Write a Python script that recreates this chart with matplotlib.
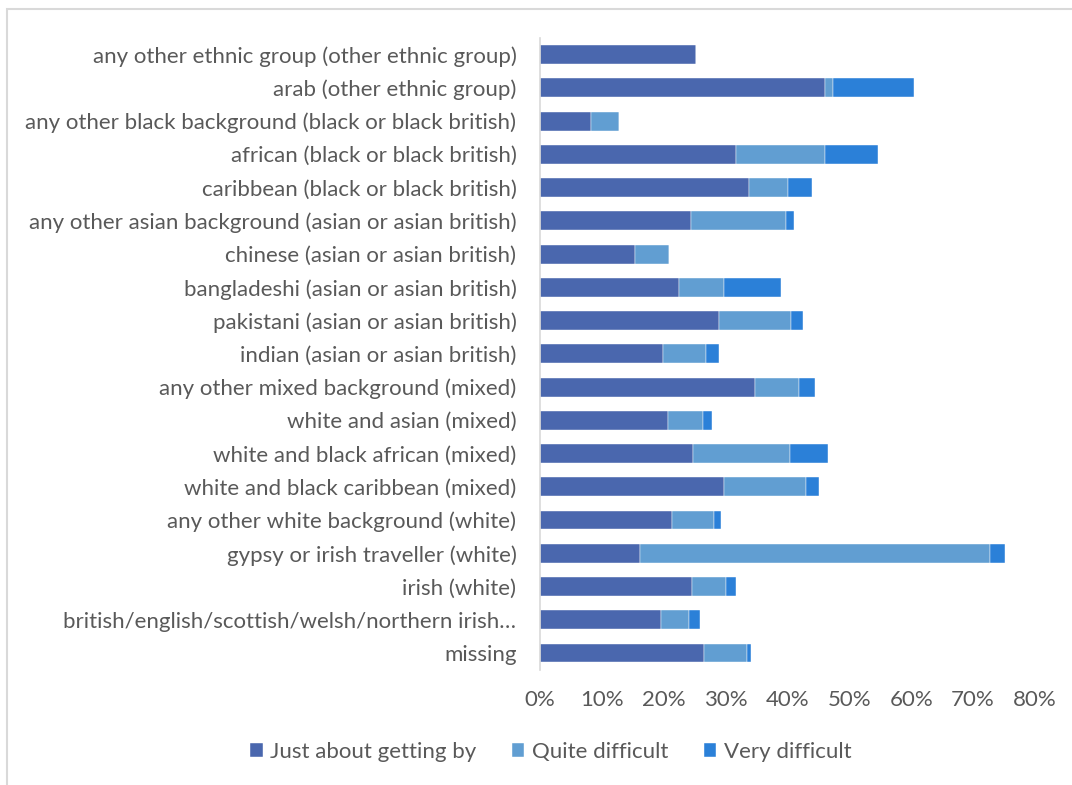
import matplotlib
matplotlib.use('Agg')
from matplotlib import pyplot as plt
from matplotlib.patches import Rectangle
from matplotlib.ticker import PercentFormatter

# categories listed bottom to top (as drawn on the y axis)
groups = [
    'missing',
    'british/english/scottish/welsh/northern irish\u2026',
    'irish (white)',
    'gypsy or irish traveller (white)',
    'any other white background (white)',
    'white and black caribbean (mixed)',
    'white and black african (mixed)',
    'white and asian (mixed)',
    'any other mixed background (mixed)',
    'indian (asian or asian british)',
    'pakistani (asian or asian british)',
    'bangladeshi (asian or asian british)',
    'chinese (asian or asian british)',
    'any other asian background (asian or asian british)',
    'caribbean (black or black british)',
    'african (black or black british)',
    'any other black background (black or black british)',
    'arab (other ethnic group)',
    'any other ethnic group (other ethnic group)',
]

just_getting_by = [26.5, 19.5, 24.6, 16.2, 21.4, 29.7, 24.8, 20.7, 34.8, 19.9,
                   28.9, 22.5, 15.4, 24.4, 33.8, 31.7, 8.3, 46.0, 25.2]
quite_difficult = [7.0, 4.5, 5.4, 56.5, 6.7, 13.3, 15.6, 5.7, 7.0, 7.0,
                   11.6, 7.3, 5.5, 15.3, 6.2, 14.4, 4.5, 1.3, 0.0]
very_difficult = [0.6, 1.9, 1.7, 2.5, 1.1, 2.1, 6.1, 1.4, 2.6, 2.1,
                  2.0, 9.2, 0.0, 1.3, 3.9, 8.5, 0.0, 13.1, 0.0]

series_names = ['Just about getting by', 'Quite difficult', 'Very difficult']
colors = ['#4A67AE', '#619ED2', '#2B80D8']
text_color = '#595959'

plt.rcParams['font.family'] = ['Lato', 'DejaVu Sans']

fig = plt.figure(figsize=(10.72, 7.85), dpi=100)
ax = fig.add_axes([540 / 1072, 1 - 669.6 / 785, (1035 - 540) / 1072, (669.6 - 38) / 785])

# stacked horizontal bars
y = list(range(len(groups)))
left = [0.0] * len(groups)
for name, vals, col in zip(series_names, [just_getting_by, quite_difficult, very_difficult], colors):
    frac = [v / 100 for v in vals]
    ax.barh(y, frac, left=left, height=0.57, color=col, label=name,
            edgecolor='white', linewidth=0.3)
    left = [l + f for l, f in zip(left, frac)]

ax.set_xlim(0, 0.8)
ax.set_ylim(-0.5, len(groups) - 0.5)
ax.set_xticks([i / 10 for i in range(9)])
ax.xaxis.set_major_formatter(PercentFormatter(1.0, decimals=0))
ax.set_yticks(y)
ax.set_yticklabels(groups)

for s in ['top', 'right', 'bottom']:
    ax.spines[s].set_visible(False)
ax.spines['left'].set_color('#D9D9D9')
ax.spines['left'].set_linewidth(1.2)
ax.tick_params(axis='both', length=0, labelsize=16, labelcolor=text_color)
ax.tick_params(axis='y', pad=17)
ax.tick_params(axis='x', pad=15)

# legend below the plot
fig.legend(loc='center', bbox_to_anchor=(551 / 1072, 1 - 752 / 785), ncol=3,
           frameon=False, fontsize=16, labelcolor=text_color,
           handlelength=0.55, handleheight=0.55, handletextpad=0.35,
           columnspacing=1.6)

# chart border (partly cropped off the right and bottom)
fig.patches.append(Rectangle((7 / 1072, -0.05), 1.2, 1 - 9 / 785 + 0.05,
                             transform=fig.transFigure, fill=False,
                             edgecolor='#D9D9D9', linewidth=1.5))

plt.savefig('out.png', dpi=100)
plt.close()
